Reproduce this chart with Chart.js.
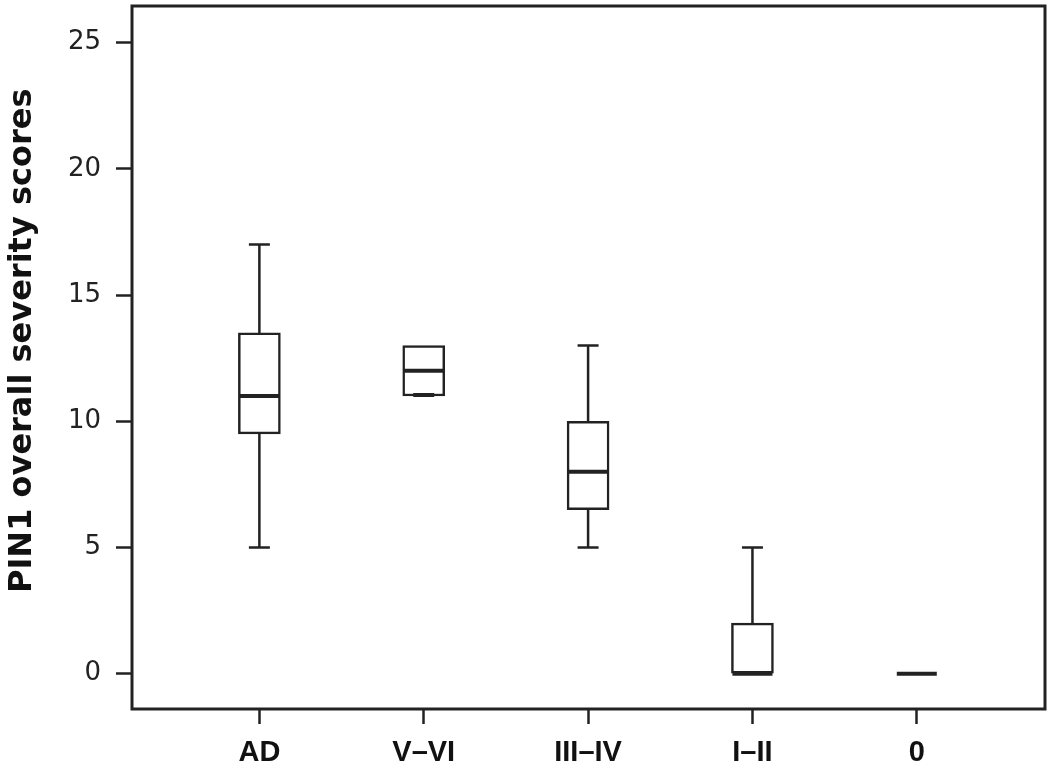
<!DOCTYPE html>
<html>
<head>
<meta charset="utf-8">
<script src="https://cdn.jsdelivr.net/npm/chart.js@4/dist/chart.umd.min.js"></script>
<style>
	html, body { margin: 0; padding: 0; background: #fff; }
	#wrap { width: 1050px; height: 769px; }
</style>
</head>
<body>
<div id="wrap"><canvas id="chart"></canvas></div>
<script>
const categories = ["AD", "V\u2013VI", "III\u2013IV", "I\u2013II", "0"];
const whiskerLow = [5, 11, 5, 0, 0];
const quartile1 = [9.5, 11, 6.5, 0, 0];
const median = [11, 12, 8, 0, 0];
const quartile3 = [13.5, 13, 10, 2, 0];
const whiskerHigh = [17, 13, 13, 5, 0];
const yTicks = [0, 5, 10, 15, 20, 25];

const lineColor = "#222";

// whiskers, caps, medians and the outer frame
const boxExtras = {
	id: "boxExtras",
	afterDatasetsDraw(chart) {
		let ctx = chart.ctx;
		let xs = chart.scales.x;
		let ys = chart.scales.y;
		let area = chart.chartArea;
		ctx.save();
		ctx.strokeStyle = lineColor;
		ctx.lineCap = "butt";
		categories.map((cat, i) => {
			let x = xs.getPixelForValue(i + 1);
			let half = 21, capHalf = 10.5;
			ctx.lineWidth = 2.5;
			if (whiskerHigh[i] > quartile3[i]) {
				ctx.beginPath();
				ctx.moveTo(x, ys.getPixelForValue(quartile3[i]));
				ctx.lineTo(x, ys.getPixelForValue(whiskerHigh[i]));
				ctx.moveTo(x - capHalf, ys.getPixelForValue(whiskerHigh[i]));
				ctx.lineTo(x + capHalf, ys.getPixelForValue(whiskerHigh[i]));
				ctx.stroke();
			}
			if (whiskerLow[i] < quartile1[i]) {
				ctx.beginPath();
				ctx.moveTo(x, ys.getPixelForValue(quartile1[i]));
				ctx.lineTo(x, ys.getPixelForValue(whiskerLow[i]));
				ctx.moveTo(x - capHalf, ys.getPixelForValue(whiskerLow[i]));
				ctx.lineTo(x + capHalf, ys.getPixelForValue(whiskerLow[i]));
				ctx.stroke();
			} else if (quartile3[i] > quartile1[i] && median[i] > quartile1[i]) {
				// whisker end sitting on the box edge
				ctx.lineWidth = 4;
				ctx.beginPath();
				ctx.moveTo(x - capHalf, ys.getPixelForValue(whiskerLow[i]) - 1);
				ctx.lineTo(x + capHalf, ys.getPixelForValue(whiskerLow[i]) - 1);
				ctx.stroke();
			}
			ctx.lineWidth = 4;
			ctx.beginPath();
			ctx.moveTo(x - half + 1, ys.getPixelForValue(median[i]));
			ctx.lineTo(x + half - 1, ys.getPixelForValue(median[i]));
			ctx.stroke();
		});
		ctx.lineWidth = 3;
		ctx.strokeRect(area.left, area.top, area.right - area.left, area.bottom - area.top);
		ctx.restore();
	}
};

new Chart(
	document.getElementById("chart"),
	{
		type: "bar",
		data: {
			datasets: [
				{
					data: categories.map((cat, i) => ({ x: i + 1, y: [quartile1[i], quartile3[i]] })),
					backgroundColor: "#fff",
					borderColor: lineColor,
					borderWidth: 2.5,
					borderSkipped: false,
					barThickness: 42
				}
			]
		},
		plugins: [boxExtras],
		options: {
			responsive: true,
			maintainAspectRatio: false,
			animation: false,
			layout: { padding: { top: 6, right: 5, left: 0, bottom: 0 } },
			plugins: {
				legend: { display: false },
				tooltip: { enabled: false }
			},
			scales: {
				x: {
					type: "linear",
					min: 0.225,
					max: 5.78,
					offset: false,
					afterBuildTicks: (scale) => {
						scale.ticks = categories.map((c, i) => ({ value: i + 1 }));
					},
					afterFit: (scale) => {
						scale.height = 60;
						scale.paddingLeft = 0;
						scale.paddingRight = 0;
					},
					grid: {
						offset: false,
						drawOnChartArea: false,
						drawTicks: true,
						tickLength: 15,
						tickWidth: 2.5,
						tickColor: lineColor
					},
					border: { display: false },
					ticks: {
						autoSkip: false,
						maxRotation: 0,
						padding: 12,
						color: "#111",
						font: { family: "Liberation Sans", size: 29, weight: "bold" },
						callback: (value) => categories[value - 1]
					}
				},
				y: {
					type: "linear",
					min: -1.4,
					max: 26.45,
					afterBuildTicks: (scale) => {
						scale.ticks = yTicks.map(v => ({ value: v }));
					},
					afterFit: (scale) => {
						scale.width = 132;
						scale.paddingTop = 0;
						scale.paddingBottom = 0;
					},
					grid: {
						drawOnChartArea: false,
						drawTicks: true,
						tickLength: 16,
						tickWidth: 2.5,
						tickColor: lineColor
					},
					border: { display: false },
					ticks: {
						padding: 15,
						color: "#222",
						font: { family: "DejaVu Sans", size: 26 }
					},
					title: {
						display: true,
						// leading spaces nudge the text up the axis like the original
						text: "   PIN1 overall severity scores",
						color: "#111",
						padding: { top: 3, bottom: 0 },
						font: { family: "DejaVu Sans", size: 32, weight: "bold" }
					}
				}
			}
		}
	}
);
</script>
</body>
</html>
